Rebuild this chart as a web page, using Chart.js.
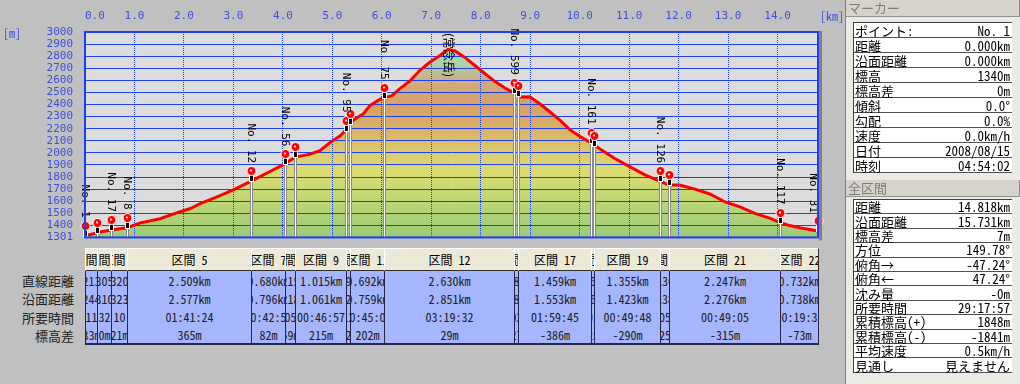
<!DOCTYPE html>
<html lang="ja">
<head>
<meta charset="utf-8">
<title>標高グラフ</title>
<script src="https://cdn.jsdelivr.net/npm/chart.js@4.4.0/dist/chart.umd.min.js"></script>
<style>
    body {
        margin: 0;
        width: 1020px;
        height: 384px;
        background: #c0c0c0;
        position: relative;
        overflow: hidden;
        font-family: "Noto Sans Mono CJK JP", "Noto Sans CJK JP", sans-serif;
        color: #000;
    }
    #wrap { position: absolute; left: 0; top: 0; width: 845px; height: 256px; }
    .unit { position: absolute; color: #3c50dc; font-size: 12px; line-height: 14px; }
    .rowname { position: absolute; left: 0; width: 74px; text-align: right; font-size: 13px; color: #222; }
    #sections { position: absolute; top: 248px; height: 97px; }
    .col { position: absolute; top: 0; height: 97px; }
    .hd {
        height: 23px; box-sizing: border-box; background: #ece9d8;
        border-top: 1px solid #fff; border-left: 1px solid #fff;
        border-right: 1px solid #303030; border-bottom: 1px solid #303030;
        display: flex; justify-content: center; align-items: center;
        overflow: hidden; white-space: nowrap; font-size: 12px;
    }
    .dt {
        height: 74px; box-sizing: border-box; background: #a6b6fe;
        border-left: 1px solid #26264c; border-right: 1px solid #26264c; border-bottom: 2px solid #26264c;
    }
    .dt div {
        height: 18px; display: flex; justify-content: center; align-items: center;
        overflow: hidden; white-space: nowrap; font-size: 12px; color: #202020;
    }
    #panel {
        position: absolute; left: 845px; top: 0; width: 175px; height: 384px;
        background: #ebeae4; border-left: 1px solid #808080; box-sizing: border-box;
    }
    .phead {
        position: absolute; left: 0; width: 174px; height: 17px; box-sizing: border-box;
        background: #d6d3cc; color: #7c7c7c; font-size: 13px; line-height: 16px; padding-left: 2px;
        border-bottom: 1px solid #909090; border-right: 1px solid #909090;
    }
    .ptab {
        position: absolute; left: 7px; width: 159px; background: #fff;
        border-top: 1px solid #404040; border-left: 1px solid #404040; box-sizing: border-box;
    }
    .ptab div {
        display: flex; justify-content: space-between; align-items: center;
        box-sizing: border-box; border-bottom: 1px solid #505050;
        padding: 0 2px 0 1px; font-size: 13px; white-space: nowrap;
    }
</style>
</head>
<body>
<div id="wrap"><canvas id="profile" width="845" height="256"></canvas></div>
<div class="unit" style="left:3px; top:26px;">[m]</div>
<div class="unit" style="left:820px; top:9px;">[km]</div>
<div id="rownames"></div>
<div id="sections"></div>
<div id="panel">
    <div class="phead" style="top:0;">マーカー</div>
    <div class="ptab" id="markerTab" style="top:22px;"></div>
    <div class="phead" style="top:180px;">全区間</div>
    <div class="ptab" id="totalTab" style="top:199px;"></div>
</div>
<script>
// 水平距離 [km] と標高 [m]
const distKm = [0, 0.31, 0.53, 0.85, 1.12, 1.52, 1.82, 2.13, 2.33, 2.73, 3.03, 3.36, 3.74, 4.02, 4.25,
    4.55, 4.75, 4.95, 5.16, 5.28, 5.42, 5.63, 5.76, 5.96, 6.04, 6.20, 6.36, 6.57, 6.77, 6.97, 7.17,
    7.34, 7.48, 7.68, 7.88, 8.08, 8.29, 8.49, 8.67, 8.79, 8.99, 9.20, 9.40, 9.60, 9.80, 10.00, 10.22,
    10.41, 10.71, 11.01, 11.32, 11.62, 11.80, 12.02, 12.33, 12.63, 12.94, 13.24, 13.54, 13.84, 14.04,
    14.24, 14.45, 14.65, 14.818];
const elevM = [1315, 1346, 1362, 1381, 1421, 1455, 1500, 1540, 1580, 1646, 1700, 1766, 1846, 1905, 1965,
    1990, 2019, 2085, 2142, 2192, 2271, 2324, 2391, 2444, 2457, 2471, 2530, 2595, 2683, 2750, 2803,
    2856, 2843, 2790, 2723, 2657, 2590, 2537, 2497, 2463, 2465, 2404, 2338, 2271, 2192, 2138, 2085,
    2032, 1953, 1886, 1819, 1766, 1734, 1734, 1700, 1660, 1594, 1554, 1500, 1460, 1426,
    1399, 1381, 1367, 1354];

// ポイント (区間の境界)
const markerKm = [0, 0.25, 0.53, 0.85, 3.36, 4.04, 4.24, 5.27, 5.36, 6.04, 8.67, 8.75, 10.22, 10.28, 11.63, 11.80, 14.05, 14.818];
const markerElev = [1315, 1340, 1362, 1381, 1766, 1905, 1962, 2185, 2240, 2457, 2497, 2470, 2085, 2060, 1766, 1734, 1424, 1354];
const markerLabel = ['No. 1', '', 'No. 17', 'No. 8', 'No. 12', 'No. 56', '', 'No. 95', '', 'No. 75',
    'No. 599', '', 'No. 161', '', 'No. 126', '', 'No. 117', 'No. 31'];

// 山頂
const peakKm = [7.34];
const peakElev = [2856];
const peakLabel = ['(常念岳)'];

// 目盛り
const xTicks = [0, 1, 2, 3, 4, 5, 6, 7, 8, 9, 10, 11, 12, 13, 14, 14.818];
const xTickLabels = ['0.0', '1.0', '2.0', '3.0', '4.0', '5.0', '6.0', '7.0', '8.0', '9.0', '10.0', '11.0', '12.0', '13.0', '14.0', ''];
const yTicks = [1301, 1400, 1500, 1600, 1700, 1800, 1900, 2000, 2100, 2200, 2300, 2400, 2500, 2600, 2700, 2800, 2900, 3000];

// 区間表
const rowNames = ['直線距離', '沿面距離', '所要時間', '標高差'];
const sectName = ['区間 1', '区間 2', '区間 3', '区間 5', '区間 7', '区間 8', '区間 9', '区間 10', '区間 11',
    '区間 12', '区間 16', '区間 17', '区間 18', '区間 19', '区間 20', '区間 21', '区間 22'];
const sectStraight = ['0.213km', '0.305km', '0.320km', '2.509km', '0.680km', '0.215km', '1.015km', '0.094km', '0.692km',
    '2.630km', '0.082km', '1.459km', '0.061km', '1.355km', '0.136km', '2.247km', '0.732km'];
const sectSurface = ['0.244km', '0.310km', '0.323km', '2.577km', '0.796km', '0.218km', '1.061km', '0.121km', '0.759km',
    '2.851km', '0.087km', '1.553km', '0.066km', '1.423km', '0.138km', '2.276km', '0.738km'];
const sectTime = ['00:11:13', '00:32:10', '00:10:05', '01:41:24', '00:42:50', '00:05:12', '00:46:57', '00:12:05', '00:45:03',
    '03:19:32', '00:02:10', '01:59:45', '00:01:05', '00:49:48', '00:05:20', '00:49:05', '00:19:36'];
const sectElev = ['33m', '0m', '21m', '365m', '82m', '59m', '215m', '52m', '202m',
    '29m', '-27m', '-386m', '-25m', '-290m', '-25m', '-315m', '-73m'];

// 右パネル
const markerRows = [['ポイント:', 'No. 1'], ['距離', '0.000km'], ['沿面距離', '0.000km'], ['標高', '1340m'],
    ['標高差', '0m'], ['傾斜', '0.0°'], ['勾配', '0.0%'], ['速度', '0.0km/h'], ['日付', '2008/08/15'], ['時刻', '04:54:02']];
const totalRows = [['距離', '14.818km'], ['沿面距離', '15.731km'], ['標高差', '7m'], ['方位', '149.78°'],
    ['俯角→', '-47.24°'], ['俯角←', '47.24°'], ['沈み量', '-0m'], ['所要時間', '29:17:57'],
    ['累積標高(+)', '1848m'], ['累積標高(-)', '-1841m'], ['平均速度', '0.5km/h'], ['見通し', '見えません']];

// 標高で色分けした塗りつぶし
const fillStops = [1301, 1600, 1850, 2000, 2200, 2400, 2600, 2750, 2900];
const fillColors = ['#9ccb7a', '#bcd674', '#dcdc72', '#dcca6c', '#dab066', '#d8a064', '#ccae80', '#aad4ae', '#a0d8bc'];

function fillGradient(context) {
    const chart = context.chart;
    if (!chart.chartArea) return fillColors[0];
    const y = chart.scales.y;
    const y0 = y.getPixelForValue(fillStops[0]);
    const y1 = y.getPixelForValue(fillStops[fillStops.length - 1]);
    const g = chart.ctx.createLinearGradient(0, y0, 0, y1);
    fillStops.forEach((v, i) => {
        g.addColorStop((v - fillStops[0]) / (fillStops[fillStops.length - 1] - fillStops[0]), fillColors[i]);
    });
    return g;
}

const pts = distKm.map((d, i) => ({ x: d, y: elevM[i] }));
const monoFont = "'DejaVu Sans Mono', 'Noto Sans CJK JP', monospace";

const trackPlugin = {
    id: 'track',
    beforeDraw(chart) {
        const { ctx, chartArea: a } = chart;
        ctx.save();
        ctx.fillStyle = '#dcdcdc';
        ctx.fillRect(a.left, a.top, a.right - a.left, a.bottom - a.top);
        ctx.restore();
    },
    afterDatasetDraw(chart, args) {
        // グリッドは塗りつぶしの上、赤線の下
        if (args.index !== 1) return;
        chart.scales.y.drawGrid(chart.chartArea);
        chart.scales.x.drawGrid(chart.chartArea);
    },
    afterDatasetsDraw(chart) {
        const { ctx, chartArea: a, scales: { x, y } } = chart;
        ctx.save();

        // 区間の境界線
        markerKm.forEach((km, i) => {
            if (i === 0 || i === markerKm.length - 1) return;
            const px = Math.round(x.getPixelForValue(km));
            const py = Math.round(y.getPixelForValue(markerElev[i]));
            ctx.fillStyle = '#8a8a8a';
            ctx.fillRect(px - 1, py, 3, a.bottom - py);
            ctx.fillStyle = '#ffffff';
            ctx.fillRect(px, py, 1, a.bottom - py);
        });

        // ピン
        markerKm.forEach((km, i) => {
            const px = Math.round(x.getPixelForValue(km));
            const py = Math.round(y.getPixelForValue(markerElev[i]));
            const hy = py - 10;
            ctx.fillStyle = '#ffffff';
            ctx.fillRect(px - 2, hy, 5, py - hy + 1);
            ctx.fillStyle = '#000000';
            ctx.fillRect(px - 1, hy, 3, py - hy);
            ctx.beginPath();
            ctx.arc(px + 0.5, hy, 4.5, 0, Math.PI * 2);
            ctx.fillStyle = '#ff0000';
            ctx.fill();
            ctx.lineWidth = 1;
            ctx.strokeStyle = '#ffffff';
            ctx.stroke();
            ctx.beginPath();
            ctx.arc(px, hy - 0.5, 1.1, 0, Math.PI * 2);
            ctx.fillStyle = '#ffffff';
            ctx.fill();
        });

        // 縦書きラベル
        ctx.fillStyle = '#000000';
        ctx.textBaseline = 'middle';
        ctx.font = '11px ' + monoFont;
        ctx.textAlign = 'right';
        markerLabel.forEach((t, i) => {
            if (!t) return;
            const px = x.getPixelForValue(markerKm[i]);
            const py = y.getPixelForValue(markerElev[i]);
            ctx.save();
            ctx.translate(Math.min(px, a.right - 5), py - 18);
            ctx.rotate(Math.PI / 2);
            ctx.fillText(t, 0, 0);
            ctx.restore();
        });

        ctx.font = "12px 'Noto Sans CJK JP', sans-serif";
        ctx.textAlign = 'left';
        peakLabel.forEach((t, i) => {
            const px = x.getPixelForValue(peakKm[i]);
            const py = y.getPixelForValue(peakElev[i]);
            const w = ctx.measureText(t).width;
            ctx.save();
            ctx.translate(px, Math.max(a.top + 1, py - 18 - w));
            ctx.rotate(Math.PI / 2);
            ctx.fillText(t, 0, 0);
            ctx.restore();
        });
        ctx.restore();
    },
    afterDraw(chart) {
        const { ctx, chartArea: a } = chart;
        ctx.save();
        ctx.strokeStyle = '#1f40f0';
        ctx.lineWidth = 2;
        ctx.strokeRect(a.left, a.top, a.right - a.left, a.bottom - a.top);
        ctx.fillStyle = '#808080';
        ctx.fillRect(a.right + 1, a.top - 1, 3, a.bottom - a.top + 4);
        ctx.restore();
    }
};

const chart = new Chart(document.getElementById('profile'), {
    type: 'line',
    data: {
        datasets: [
            {
                label: '標高',
                data: pts,
                borderColor: '#ff0000',
                borderWidth: 3,
                pointRadius: 0,
                fill: false,
                order: 1
            },
            {
                label: '地形',
                data: pts,
                borderWidth: 0,
                borderColor: 'rgba(0,0,0,0)',
                pointRadius: 0,
                fill: 'start',
                backgroundColor: fillGradient,
                order: 2
            }
        ]
    },
    options: {
        responsive: false,
        animation: false,
        devicePixelRatio: 1,
        layout: { padding: { right: 27, bottom: 11 } },
        plugins: { legend: { display: false }, tooltip: { enabled: false } },
        scales: {
            x: {
                type: 'linear',
                position: 'top',
                min: 0,
                max: 14.818,
                afterBuildTicks: s => { s.ticks = xTicks.map(v => ({ value: v })); },
                afterFit: s => { s.height = 32; },
                ticks: {
                    autoSkip: false,
                    maxRotation: 0,
                    align: 'inner',
                    padding: 9,
                    color: '#3c50dc',
                    font: { family: monoFont, size: 11 },
                    callback: (v, i) => xTickLabels[i]
                },
                grid: { color: '#1f40f0', lineWidth: 1, drawTicks: false },
                border: { display: false, dash: [1, 1] }
            },
            y: {
                type: 'linear',
                min: 1301,
                max: 3000,
                afterBuildTicks: s => { s.ticks = yTicks.map(v => ({ value: v })); },
                afterFit: s => { s.width = 85; },
                ticks: {
                    autoSkip: false,
                    padding: 12,
                    color: '#3c50dc',
                    font: { family: monoFont, size: 11 },
                    callback: v => String(v)
                },
                grid: { color: '#1f40f0', lineWidth: 1, drawTicks: false },
                border: { display: false }
            }
        }
    },
    plugins: [trackPlugin]
});

// 行見出し
const rowTop = 272;
const rowH = 18.25;
const rn = document.getElementById('rownames');
rowNames.forEach((t, i) => {
    const d = document.createElement('div');
    d.className = 'rowname';
    d.style.top = (rowTop + i * rowH) + 'px';
    d.style.height = rowH + 'px';
    d.style.lineHeight = rowH + 'px';
    d.textContent = t;
    rn.appendChild(d);
});

// 区間表 (x スケールで列位置を決める)
const xs = chart.scales.x;
const sect = document.getElementById('sections');
const left0 = Math.round(xs.getPixelForValue(markerKm[0]));
const right0 = Math.round(xs.getPixelForValue(markerKm[markerKm.length - 1]));
sect.style.left = left0 + 'px';
sect.style.width = (right0 - left0 + 1) + 'px';
sectName.forEach((name, i) => {
    const l = Math.round(xs.getPixelForValue(markerKm[i]));
    const r = Math.round(xs.getPixelForValue(markerKm[i + 1]));
    const col = document.createElement('div');
    col.className = 'col';
    col.style.left = (l - left0) + 'px';
    col.style.width = (r - l + 1) + 'px';
    col.innerHTML = `
        <div class="hd"><span>${name}</span></div>
        <div class="dt">
            <div><span>${sectStraight[i]}</span></div>
            <div><span>${sectSurface[i]}</span></div>
            <div><span>${sectTime[i]}</span></div>
            <div><span>${sectElev[i]}</span></div>
        </div>`;
    sect.appendChild(col);
});

// 右パネルの表
function fillTable(id, rows, h) {
    const tab = document.getElementById(id);
    rows.forEach(r => {
        const d = document.createElement('div');
        d.style.height = h + 'px';
        d.innerHTML = `<span>${r[0]}</span><span>${r[1]}</span>`;
        tab.appendChild(d);
    });
}
fillTable('markerTab', markerRows, 15);
fillTable('totalTab', totalRows, 14.4);
</script>
</body>
</html>
